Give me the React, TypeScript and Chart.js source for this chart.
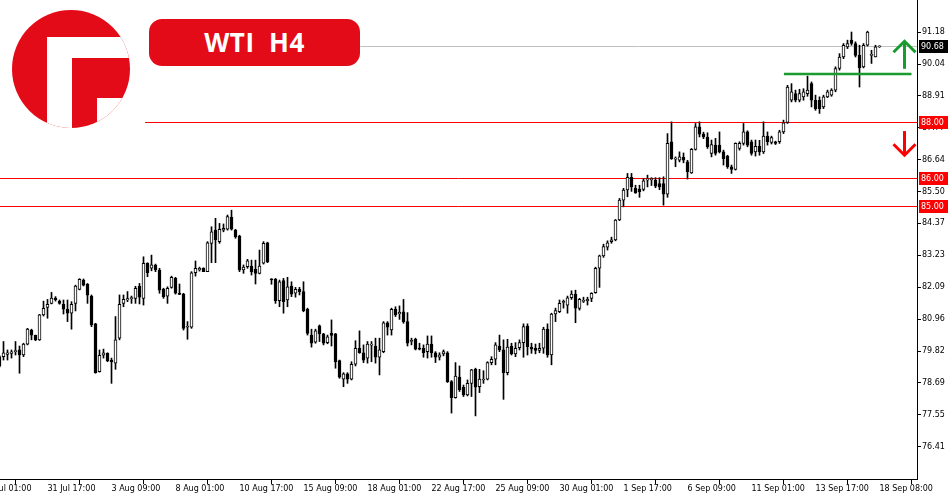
import React, { useEffect, useRef } from "react";
import { Chart, registerables } from "chart.js";

Chart.register(...registerables);

// ---- Data: WTI H4 candles ----
const opens = [
  79.62, 79.62, 79.70, 79.74, 79.80, 79.86, 79.68, 80.07, 80.57, 80.38,
  80.22, 81.11, 81.38, 81.52, 81.71, 81.60, 81.49, 81.31, 81.17, 81.52,
  82.02, 82.35, 82.20, 81.78, 80.79, 79.09, 79.67, 79.74, 79.50, 79.39,
  80.28, 81.52, 81.64, 81.69, 81.70, 82.13, 81.70, 82.95, 82.77, 82.88,
  82.71, 82.02, 81.78, 82.09, 82.41, 81.88, 81.85, 80.67, 80.67, 82.61,
  82.71, 82.77, 82.65, 83.66, 84.13, 83.72, 84.13, 84.16, 84.59, 84.13,
  83.92, 82.71, 82.83, 82.85, 82.73, 82.59, 82.95, 83.68, 82.38, 82.38,
  81.62, 82.33, 81.64, 82.14, 81.88, 82.02, 81.94, 81.31, 80.39, 80.14,
  80.72, 80.43, 80.12, 80.45, 80.43, 79.48, 78.82, 79.01, 78.82, 79.35,
  79.92, 79.76, 79.57, 80.03, 80.00, 79.60, 79.80, 80.83, 80.57, 81.31,
  81.15, 81.22, 80.87, 80.16, 80.24, 79.92, 79.92, 79.80, 80.07, 79.76,
  79.60, 79.72, 79.76, 78.73, 78.16, 78.89, 78.53, 78.26, 78.67, 79.17,
  78.55, 78.79, 78.82, 79.41, 79.53, 80.00, 79.86, 79.05, 80.00, 79.72,
  79.94, 80.12, 80.71, 79.96, 79.92, 79.84, 79.92, 80.60, 79.68, 81.14,
  81.22, 81.55, 81.46, 81.72, 81.85, 81.34, 81.59, 81.62, 81.70, 81.90,
  82.77, 83.21, 83.52, 83.72, 83.78, 84.49, 85.20, 85.56, 86.01, 85.62,
  85.59, 85.58, 85.91, 85.92, 85.91, 85.79, 85.79, 85.41, 87.28, 86.66,
  86.62, 86.72, 86.56, 86.17, 87.01, 87.81, 87.55, 87.45, 86.86, 87.16,
  87.16, 86.92, 86.77, 86.39, 86.29, 87.04, 87.22, 87.63, 87.28, 86.92,
  87.12, 86.92, 87.48, 87.26, 87.28, 87.28, 87.63, 87.97, 88.76, 89.00,
  88.76, 88.88, 88.99, 89.35, 88.76, 88.76, 88.52, 88.88, 88.94, 89.12,
  89.89, 90.30, 90.66, 90.90, 90.78, 90.36, 89.95, 90.72, 90.36, 90.30,
  90.66,
];
const highs = [
  79.66, 80.16, 79.86, 79.86, 80.16, 80.00, 80.10, 80.63, 80.60, 80.39,
  81.13, 81.60, 81.66, 81.91, 81.76, 81.64, 81.64, 81.64, 81.58, 82.17,
  82.40, 82.39, 82.23, 81.82, 80.81, 79.86, 79.89, 79.76, 79.57, 81.05,
  81.82, 81.82, 81.94, 81.78, 82.13, 82.23, 83.18, 82.97, 83.24, 82.92,
  82.77, 82.06, 82.11, 82.49, 82.45, 82.21, 81.88, 80.87, 82.65, 83.03,
  82.81, 82.79, 83.72, 84.25, 84.55, 84.37, 84.35, 84.67, 84.84, 84.16,
  83.95, 82.89, 83.09, 83.06, 83.06, 83.42, 83.72, 83.70, 82.40, 82.41,
  82.35, 82.41, 82.45, 82.29, 82.09, 82.09, 82.29, 81.35, 80.60, 80.60,
  80.75, 80.45, 80.39, 80.93, 80.45, 79.50, 79.05, 79.05, 79.44, 80.19,
  80.54, 80.04, 80.16, 80.16, 80.28, 80.28, 80.87, 80.87, 81.35, 81.40,
  81.43, 81.66, 81.19, 80.28, 80.28, 80.10, 80.04, 80.36, 80.36, 79.80,
  79.76, 79.86, 79.80, 78.77, 79.41, 79.29, 78.61, 78.79, 79.17, 79.21,
  79.17, 79.12, 79.44, 79.62, 80.12, 80.39, 80.22, 80.24, 80.10, 80.12,
  80.22, 80.79, 80.79, 80.10, 80.07, 80.10, 80.67, 80.79, 81.17, 81.35,
  81.64, 81.64, 81.78, 81.97, 81.99, 81.70, 81.74, 81.74, 81.90, 82.81,
  83.24, 83.63, 83.75, 83.88, 84.51, 85.26, 85.62, 86.15, 86.15, 85.73,
  85.73, 85.97, 86.09, 86.00, 86.00, 86.00, 86.03, 87.57, 87.99, 86.74,
  86.92, 86.88, 86.62, 87.04, 87.93, 87.99, 87.62, 87.60, 87.34, 87.40,
  87.63, 86.98, 86.80, 86.45, 87.24, 87.28, 87.93, 87.67, 87.34, 87.34,
  87.33, 87.99, 87.63, 87.48, 87.30, 87.69, 88.05, 89.29, 89.35, 89.12,
  89.15, 89.17, 89.62, 89.41, 88.94, 88.88, 88.94, 89.12, 89.17, 89.95,
  90.42, 90.78, 90.90, 91.19, 90.84, 90.72, 90.78, 91.22, 90.54, 90.72,
  90.70,
];
const lows = [
  79.25, 79.50, 79.50, 79.57, 79.68, 79.03, 79.62, 80.04, 80.22, 80.19,
  80.20, 81.07, 80.99, 81.50, 81.60, 81.49, 81.14, 80.87, 80.60, 81.25,
  82.00, 82.14, 81.52, 80.69, 79.03, 79.07, 79.57, 79.44, 78.67, 79.17,
  80.22, 81.40, 81.58, 81.52, 81.52, 81.50, 81.46, 82.47, 82.68, 82.65,
  81.88, 81.70, 81.52, 82.06, 81.85, 81.83, 80.57, 80.24, 80.63, 82.49,
  82.67, 82.65, 82.65, 82.97, 82.97, 83.66, 84.07, 84.13, 84.13, 83.84,
  82.65, 82.59, 82.77, 82.53, 82.21, 82.57, 82.92, 82.97, 82.20, 81.52,
  81.40, 81.17, 81.40, 81.76, 81.74, 81.82, 81.22, 80.39, 79.96, 80.10,
  80.16, 80.04, 80.08, 80.00, 79.21, 78.85, 78.55, 78.67, 78.79, 79.29,
  79.74, 79.41, 79.39, 79.44, 79.39, 78.97, 79.76, 80.39, 80.39, 81.05,
  80.95, 80.81, 80.00, 80.04, 79.86, 79.86, 79.60, 79.57, 79.60, 79.41,
  79.50, 79.65, 78.70, 77.61, 78.14, 78.38, 78.20, 78.22, 78.20, 77.51,
  78.34, 78.67, 78.79, 79.33, 79.33, 79.80, 78.10, 78.97, 79.68, 79.62,
  79.86, 79.60, 79.68, 79.74, 79.72, 79.76, 79.74, 79.60, 79.33, 80.87,
  81.19, 81.35, 81.17, 81.66, 80.83, 81.28, 81.55, 81.46, 81.58, 81.88,
  82.09, 83.16, 83.42, 83.66, 83.75, 84.47, 84.96, 85.32, 85.51, 85.44,
  85.30, 85.53, 85.67, 85.72, 85.64, 85.57, 85.02, 85.30, 86.65, 86.39,
  86.56, 86.53, 85.95, 86.15, 86.98, 87.45, 87.39, 87.04, 86.74, 86.80,
  86.88, 86.45, 86.33, 86.15, 86.27, 86.98, 87.16, 87.10, 86.80, 86.77,
  86.80, 86.86, 87.16, 87.20, 87.18, 87.22, 87.57, 87.93, 88.70, 88.70,
  88.70, 88.76, 88.90, 88.52, 88.40, 88.29, 88.46, 88.85, 88.90, 89.06,
  89.83, 90.24, 90.60, 90.72, 90.30, 89.23, 89.91, 90.69, 90.07, 90.30,
  90.64,
];
const closes = [
  79.28, 79.76, 79.76, 79.79, 79.82, 79.68, 80.07, 80.60, 80.39, 80.22,
  81.11, 81.34, 81.49, 81.71, 81.64, 81.52, 81.31, 81.17, 81.49, 82.14,
  82.38, 82.17, 81.81, 80.75, 79.05, 79.67, 79.76, 79.48, 79.43, 80.22,
  81.49, 81.66, 81.69, 81.71, 82.06, 81.74, 82.95, 82.61, 82.89, 82.71,
  81.99, 81.76, 82.06, 82.45, 81.88, 81.84, 80.63, 80.69, 82.61, 82.77,
  82.77, 82.65, 83.68, 84.07, 83.78, 84.16, 84.19, 84.61, 84.16, 83.89,
  82.71, 82.81, 83.04, 82.65, 82.59, 82.85, 83.66, 83.00, 82.36, 81.62,
  82.29, 81.58, 82.11, 81.85, 82.02, 81.94, 81.26, 80.45, 80.10, 80.54,
  80.43, 80.10, 80.33, 80.38, 79.44, 78.89, 79.01, 78.82, 79.35, 79.92,
  79.76, 79.50, 80.07, 80.07, 79.60, 79.86, 80.83, 80.67, 81.31, 81.11,
  81.20, 80.87, 80.10, 80.20, 79.89, 79.89, 79.76, 80.07, 79.76, 79.60,
  79.69, 79.80, 78.73, 78.16, 78.93, 78.44, 78.26, 78.67, 79.15, 78.53,
  78.82, 78.80, 79.41, 79.53, 80.04, 79.86, 79.05, 79.96, 79.72, 79.92,
  80.12, 80.69, 79.98, 79.89, 79.84, 79.92, 80.60, 79.68, 81.14, 81.26,
  81.52, 81.59, 81.72, 81.85, 81.35, 81.66, 81.62, 81.66, 81.88, 82.77,
  83.21, 83.54, 83.68, 83.78, 84.49, 85.20, 85.56, 86.01, 85.67, 85.46,
  85.50, 85.89, 85.94, 85.97, 85.70, 85.67, 85.41, 87.22, 86.68, 86.70,
  86.74, 86.62, 86.21, 87.01, 87.81, 87.55, 87.45, 87.10, 87.18, 86.86,
  86.92, 86.68, 86.39, 86.29, 87.22, 87.22, 87.63, 87.16, 86.86, 87.12,
  86.92, 87.48, 87.28, 87.43, 87.22, 87.63, 87.95, 89.23, 89.06, 88.76,
  89.00, 89.06, 89.12, 88.76, 88.46, 88.46, 88.88, 89.06, 89.12, 89.89,
  90.30, 90.72, 90.78, 90.78, 90.36, 89.91, 90.72, 91.19, 90.38, 90.66,
  90.68,
];

// x-axis labels (one every 16 bars) and the bar index they sit on
const xLabelIndex = [-4, 12, 28, 44, 60, 76, 92, 108, 124, 140, 156, 172, 188, 204, 220];
const xLabels = [
  "27 Jul 01:00", "31 Jul 17:00", "3 Aug 09:00", "8 Aug 01:00", "10 Aug 17:00",
  "15 Aug 09:00", "18 Aug 01:00", "22 Aug 17:00", "25 Aug 09:00", "30 Aug 01:00",
  "1 Sep 17:00", "6 Sep 09:00", "11 Sep 01:00", "13 Sep 17:00", "18 Sep 08:00",
];

// y-axis tick values
const yTicks = [91.18, 90.04, 88.91, 87.77, 86.64, 85.50, 84.37, 83.23, 82.09, 80.96, 79.82, 78.69, 77.55, 76.41];

// annotations
const bidPrice = 90.68;
const redLevels = [88.0, 86.0, 85.0];
const redLevelStartIndex = [36.4, -1, -1];
const bidLineStartIndex = 90.2;
const greenLevel = 89.69;
const greenLineRange = [196.1, 228.0];
const upArrow = { index: 226.0, from: 89.88, to: 90.86 };
const downArrow = { index: 226.0, from: 87.66, to: 86.8 };

const RED = "#ff0000";
const GREEN = "#1a9b2e";
const FONT = "DejaVu Sans";

export default function App() {
  const ref = useRef<HTMLCanvasElement | null>(null);

  useEffect(() => {
    const canvas = ref.current;
    if (!canvas) return;
    const idx = opens.map((_, i) => i);

    const overlay = {
      id: "overlay",
      beforeDatasetsDraw(chart: any) {
        const { ctx, chartArea } = chart;
        const xs = chart.scales.x;
        const ys = chart.scales.y;
        ctx.save();
        // bid line
        let y = Math.round(ys.getPixelForValue(bidPrice)) + 0.5;
        ctx.strokeStyle = "#c0c0c0";
        ctx.lineWidth = 1;
        ctx.beginPath();
        ctx.moveTo(Math.max(chartArea.left, xs.getPixelForValue(bidLineStartIndex)), y);
        ctx.lineTo(chartArea.right, y);
        ctx.stroke();
        // red levels
        ctx.strokeStyle = RED;
        redLevels.forEach((v, k) => {
          const yy = Math.round(ys.getPixelForValue(v)) + 0.5;
          const sx = redLevelStartIndex[k] < 0 ? chartArea.left : xs.getPixelForValue(redLevelStartIndex[k]);
          ctx.beginPath();
          ctx.moveTo(sx, yy);
          ctx.lineTo(chartArea.right, yy);
          ctx.stroke();
        });
        ctx.restore();
      },
      afterDatasetsDraw(chart: any) {
        const { ctx } = chart;
        const xs = chart.scales.x;
        const ys = chart.scales.y;
        ctx.save();
        // green level
        const gy = ys.getPixelForValue(greenLevel);
        ctx.strokeStyle = GREEN;
        ctx.lineWidth = 2.5;
        ctx.beginPath();
        ctx.moveTo(xs.getPixelForValue(greenLineRange[0]), gy);
        ctx.lineTo(xs.getPixelForValue(greenLineRange[1]), gy);
        ctx.stroke();
        // arrows
        const drawArrow = (a: any, color: string) => {
          const x = Math.round(xs.getPixelForValue(a.index)) + 0.5;
          const y0 = ys.getPixelForValue(a.from);
          const y1 = ys.getPixelForValue(a.to);
          const dir = y1 < y0 ? 1 : -1;
          ctx.strokeStyle = color;
          ctx.lineWidth = 3;
          ctx.lineCap = "butt";
          ctx.lineJoin = "miter";
          ctx.beginPath();
          ctx.moveTo(x, y0);
          ctx.lineTo(x, y1 + dir * 1.5);
          ctx.stroke();
          ctx.beginPath();
          ctx.moveTo(x - 11, y1 + dir * 11);
          ctx.lineTo(x, y1);
          ctx.lineTo(x + 11, y1 + dir * 11);
          ctx.stroke();
        };
        drawArrow(upArrow, GREEN);
        drawArrow(downArrow, RED);
        ctx.restore();
      },
      afterDraw(chart: any) {
        const { ctx, chartArea } = chart;
        const ys = chart.scales.y;
        ctx.save();
        const boxes = [
          { v: bidPrice, bg: "#000000" },
          ...redLevels.map((v) => ({ v, bg: RED })),
        ];
        ctx.font = `8px "${FONT}"`;
        ctx.textBaseline = "middle";
        ctx.textAlign = "left";
        boxes.forEach((b) => {
          const y = Math.round(ys.getPixelForValue(b.v));
          ctx.fillStyle = b.bg;
          ctx.fillRect(chartArea.right + 2, y - 6, 29, 13);
          ctx.fillStyle = "#ffffff";
          ctx.fillText(b.v.toFixed(2), chartArea.right + 4, y + 0.5);
        });
        ctx.restore();
      },
    };

    const chart = new Chart(canvas, {
      type: "bar",
      data: {
        datasets: [
          {
            label: "body",
            data: idx.map((i) => ({ x: i, y: [Math.min(opens[i], closes[i]), Math.max(opens[i], closes[i])] })) as any,
            backgroundColor: (c: any) => (closes[c.dataIndex] >= opens[c.dataIndex] ? "#ffffff" : "#000000"),
            borderColor: "#000000",
            borderWidth: 1,
            borderSkipped: false,
            barThickness: 3,
            minBarLength: 1,
            grouped: false,
            order: 0,
          } as any,
          {
            label: "wick",
            data: idx.map((i) => ({ x: i, y: [lows[i], highs[i]] })) as any,
            backgroundColor: "#000000",
            borderWidth: 0,
            barThickness: 1,
            minBarLength: 1,
            grouped: false,
            order: 1,
          } as any,
        ],
      },
      options: {
        responsive: false,
        animation: false,
        events: [],
        layout: { padding: 0 },
        plugins: { legend: { display: false }, tooltip: { enabled: false } },
        scales: {
          x: {
            type: "linear",
            min: 0.125,
            max: 229.375,
            offset: false,
            grid: { display: true, drawOnChartArea: false, drawTicks: true, tickLength: 5, color: "#000000" },
            border: { display: true, color: "#000000" },
            ticks: {
              autoSkip: false,
              maxRotation: 0,
              minRotation: 0,
              align: "start",
              padding: 0,
              color: "#000000",
              font: { family: FONT, size: 8 },
              callback: (v: any) => {
                const k = xLabelIndex.indexOf(Math.round(Number(v)));
                return k >= 0 ? xLabels[k] : "";
              },
            },
            afterBuildTicks: (s: any) => {
              s.ticks = xLabelIndex.map((v) => ({ value: v }));
            },
            afterFit: (s: any) => {
              s.height = 21;
              s.paddingLeft = 0;
              s.paddingRight = 0;
            },
          } as any,
          y: {
            type: "linear",
            position: "right",
            min: 75.261,
            max: 92.331,
            grid: { display: true, drawOnChartArea: false, drawTicks: true, tickLength: 4, color: "#000000" },
            border: { display: true, color: "#000000" },
            ticks: {
              padding: 1,
              color: "#000000",
              font: { family: FONT, size: 8 },
              callback: (v: any) => Number(v).toFixed(2),
            },
            afterBuildTicks: (s: any) => {
              s.ticks = yTicks.map((v) => ({ value: v }));
            },
            afterFit: (s: any) => {
              s.width = 33;
              s.paddingTop = 0;
              s.paddingBottom = 0;
            },
          } as any,
        },
      },
      plugins: [overlay],
    });
    return () => chart.destroy();
  }, []);

  return (
    <div style={{ position: "fixed", left: 0, top: 0, width: 950, height: 500, background: "#ffffff", overflow: "hidden" }}>
      <canvas ref={ref} width={950} height={500} style={{ display: "block", width: 950, height: 500 }} />
      <svg width={140} height={140} style={{ position: "absolute", left: 0, top: 0 }} viewBox="0 0 140 140">
        <defs>
          <clipPath id="logoClip">
            <circle cx={71} cy={69} r={59} />
          </clipPath>
        </defs>
        <g clipPath="url(#logoClip)">
          <rect x={0} y={0} width={140} height={140} fill="#e30b17" />
          <rect x={47} y={37} width={25} height={100} fill="#ffffff" />
          <rect x={47} y={37} width={90} height={21} fill="#ffffff" />
          <rect x={97} y={98} width={40} height={40} fill="#ffffff" />
        </g>
      </svg>
      <div
        style={{
          position: "absolute",
          left: 149,
          top: 19,
          width: 211,
          height: 47,
          borderRadius: 13,
          background: "#e30b17",
          color: "#ffffff",
          fontFamily: "'Open Sans', 'Noto Sans', sans-serif",
          fontWeight: 700,
          fontSize: 26,
          lineHeight: "47px",
          textAlign: "center",
          whiteSpace: "pre",
          letterSpacing: 0.5,
        }}
      >
        {"WTI  H4"}
      </div>
    </div>
  );
}
